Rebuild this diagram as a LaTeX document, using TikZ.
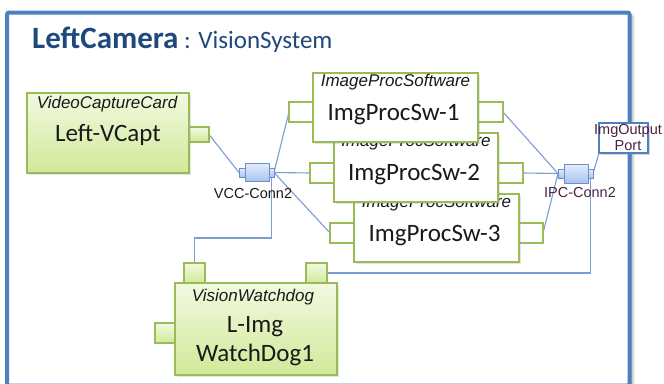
\documentclass[tikz,border=0pt]{standalone}
\usepackage{fontspec}
\setmainfont{Carlito}
\newfontfamily\arialf{Liberation Sans}
\usetikzlibrary{shadows,shadows.blur}
\pgfdeclarelayer{framelayer}
\pgfdeclarelayer{wirelayer}
\pgfsetlayers{framelayer,wirelayer,main}

\definecolor{frameblue}{HTML}{4F81BD}
\definecolor{titleblue}{HTML}{1F497D}
\definecolor{olive}{HTML}{9BBB59}
\definecolor{gtop}{HTML}{F2F9E0}
\definecolor{gbot}{HTML}{D1E999}
\definecolor{wirecol}{HTML}{7C9DD3}
\definecolor{ctop}{HTML}{E3EDFD}
\definecolor{cbot}{HTML}{A9C3EF}
\definecolor{cedge}{HTML}{6C8FCB}
\definecolor{plum}{HTML}{4B2245}
\definecolor{ink}{HTML}{1A1A1A}

\tikzset{
  blk/.style={anchor=north west, inner sep=0pt, outer sep=0pt},
  softshadow/.style={drop shadow={shadow xshift=1.5pt, shadow yshift=-1.5pt, opacity=.22}},
  greenbox/.style={draw=olive, line width=1.2pt, top color=gtop, bottom color=gbot, softshadow},
  whitebox/.style={draw=olive, line width=1.2pt, fill=white, softshadow},
  greenport/.style={draw=olive, line width=1.1pt, top color=gtop, bottom color=gbot},
  whiteport/.style={draw=olive, line width=1.1pt, fill=white},
  connbox/.style={draw=cedge, line width=1pt, top color=ctop, bottom color=cbot},
  outbox/.style={draw=frameblue, line width=2.6pt, fill=white,
    drop shadow={shadow xshift=2pt, shadow yshift=-2pt, opacity=.3}},
  wire/.style={draw=wirecol, line width=1.1pt},
  typelbl/.style={font=\arialf\itshape\fontsize{17}{17}\selectfont, text=ink, anchor=base, inner sep=0pt},
  mainlbl/.style={font=\fontsize{25}{25}\selectfont, text=ink, anchor=base, inner sep=0pt},
  connlbl/.style={font=\arialf\fontsize{14.5}{14.5}\selectfont, anchor=base, inner sep=0pt},
}

% \boxat{name}{style}{x}{y}{width}{height}
\newcommand{\boxat}[6]{\node[#2, blk, minimum width=#5pt, minimum height=#6pt] (#1) at (#3,#4) {};}

\begin{document}
\begin{tikzpicture}[x=1pt,y=-1pt]
\useasboundingbox (0,0) rectangle (664,383);

% outer frame of the composite part
\begin{pgfonlayer}{framelayer}
  \draw[frameblue, line width=4pt, fill=white, rounded corners=2pt,
    blur shadow={shadow xshift=3pt, shadow yshift=-3pt, shadow blur radius=3pt, shadow opacity=40}]
    (7,12.5) rectangle (629.5,385.5);
\end{pgfonlayer}

\node[anchor=base west, inner sep=0pt, text=titleblue] (title) at (32,48)
  {\fontsize{31}{31}\selectfont\bfseries LeftCamera\fontsize{25}{25}\selectfont\mdseries{} : VisionSystem};

% video capture card
\boxat{lvcP}{greenport}{189}{127}{20}{15}
\boxat{lvc}{greenbox}{27}{93}{162}{80}
\node[typelbl] (lvcType) at (107,108) {VideoCaptureCard};
\node[mainlbl] (lvcName) at (108,141) {Left-VCapt};

% image processing instances (drawn back to front)
\boxat{sw3L}{whiteport}{330}{223}{24}{20}
\boxat{sw3R}{whiteport}{519}{223}{24}{20}
\boxat{sw3}{whitebox}{354}{194}{165}{68}
\node[typelbl] (sw3Type) at (436.5,207) {ImageProcSoftware};
\node[mainlbl] (sw3Name) at (434.5,241) {ImgProcSw-3};

\boxat{sw2L}{whiteport}{310}{163}{24}{20}
\boxat{sw2R}{whiteport}{498}{163}{25}{20}
\boxat{sw2}{whitebox}{334}{133}{164}{69}
\node[typelbl] (sw2Type) at (416,146) {ImageProcSoftware};
\node[mainlbl] (sw2Name) at (414,180) {ImgProcSw-2};

\boxat{sw1L}{whiteport}{289}{102}{24}{20}
\boxat{sw1R}{whiteport}{478}{102}{25}{20}
\boxat{sw1}{whitebox}{313}{73}{165}{69}
\node[typelbl] (sw1Type) at (395.5,86) {ImageProcSoftware};
\node[mainlbl] (sw1Name) at (393.5,120) {ImgProcSw-1};

% watchdog
\boxat{wdT1}{greenport}{184}{263}{21}{20}
\boxat{wdT2}{greenport}{306}{263}{21}{20}
\boxat{wdL}{greenport}{155}{323}{20}{20}
\boxat{wd}{greenbox}{175}{283}{162}{92}
\node[typelbl] (wdType) at (253,301) {VisionWatchdog};
\node[mainlbl] (wdName1) at (255,332) {L-Img};
\node[mainlbl] (wdName2) at (255,361) {WatchDog1};

% connectors
\boxat{vccL}{connbox}{239}{168}{6}{9}
\boxat{vccR}{connbox}{269}{168}{5}{9}
\boxat{vcc}{connbox}{245}{163}{24}{18}
\node[connlbl, text=ink] (vccLbl) at (253,198) {VCC-Conn2};

\boxat{ipcL}{connbox}{558}{169}{6}{9}
\boxat{ipcR}{connbox}{588}{169}{5}{9}
\boxat{ipc}{connbox}{564}{164}{24}{19}
\node[connlbl, text=plum] (ipcLbl) at (580,197) {IPC-Conn2};

% boundary port
\boxat{outp}{outbox}{599}{123}{49}{30}
\node[connlbl, text=plum] (outTxt1) at (628,134) {ImgOutput};
\node[connlbl, text=plum] (outTxt2) at (628,150) {Port};

% wiring
\begin{pgfonlayer}{wirelayer}
  \draw[wire] (lvcP.east) -- (vccL.west);
  \draw[wire] (vccR.east) -- (sw1L.west);
  \draw[wire] (vccR.east) -- (sw2L.west);
  \draw[wire] (vccR.east) -- (sw3L.west);
  \draw[wire] (sw1R.east) -- (ipcL.west);
  \draw[wire] (sw2R.east) -- (ipcL.west);
  \draw[wire] (sw3R.east) -- (ipcL.west);
  \draw[wire] (ipcR.east) -- (outp.south west);
  \draw[wire] (wdT1.north) -- ++(0,-25) -| (vccR.south);
  \draw[wire] (ipcR.south) |- (wdT2.east);
\end{pgfonlayer}
\end{tikzpicture}
\end{document}
